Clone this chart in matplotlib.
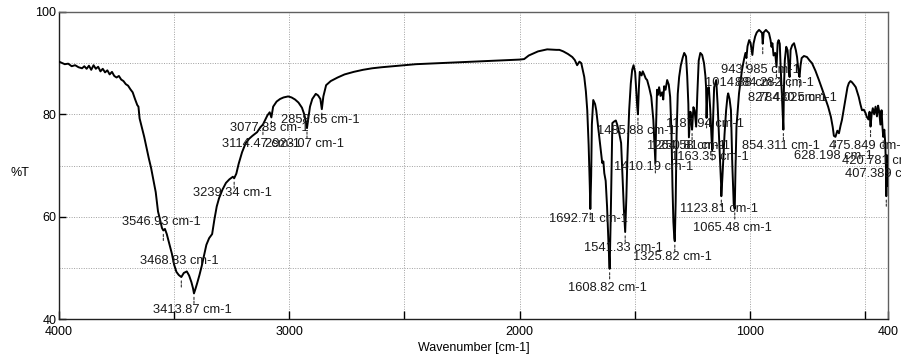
import numpy as np
import matplotlib
matplotlib.use("Agg")
import matplotlib.pyplot as plt

# IR spectrum (wavenumber cm-1, %T)
wn = [4000, 3990, 3975, 3960, 3945, 3930, 3915, 3900, 3890, 3880, 3870, 3860, 3850,
      3840, 3830, 3820, 3810, 3800, 3790, 3780, 3770, 3760, 3750, 3740, 3730, 3720,
      3710, 3700, 3690, 3680, 3670, 3660, 3655, 3650, 3640, 3630, 3620, 3610, 3600,
      3590, 3580, 3570, 3560, 3553, 3546.93, 3540, 3532, 3520, 3510, 3500, 3490, 3480,
      3468.83, 3458, 3445, 3435, 3425, 3418, 3413.87, 3408, 3400, 3390, 3380, 3370,
      3360, 3348, 3335, 3325, 3315, 3305, 3290, 3275, 3260, 3245, 3239.34, 3230, 3220,
      3205, 3190, 3175, 3160, 3140, 3125, 3114.47, 3105, 3095, 3085, 3077.83, 3070,
      3055, 3040, 3025, 3005, 2990, 2975, 2960, 2945, 2935, 2928, 2923.07, 2918, 2910,
      2900, 2885, 2875, 2865, 2858.65, 2852, 2840, 2820, 2790, 2760, 2720, 2680, 2640,
      2600, 2550, 2500, 2450, 2400, 2350, 2300, 2250, 2200, 2150, 2100, 2050, 2000,
      1980, 1960, 1920, 1880, 1840, 1827, 1810, 1790, 1771, 1760, 1750, 1740, 1732,
      1719, 1712, 1706, 1700, 1695, 1692.71, 1689, 1686, 1680, 1672, 1667, 1660, 1654,
      1646, 1641, 1636, 1632, 1626, 1620, 1614, 1608.82, 1604, 1600, 1597, 1589, 1582,
      1576, 1568, 1559, 1553, 1547, 1541.33, 1536, 1532, 1524, 1517, 1511, 1505, 1498,
      1494, 1489, 1485.88, 1482, 1478, 1470, 1465, 1459, 1452, 1446, 1437, 1428, 1419,
      1414, 1410.19, 1407, 1403, 1399, 1394, 1388, 1381, 1376, 1372, 1366, 1359, 1352,
      1346, 1340, 1336, 1332, 1328, 1325.82, 1322, 1318, 1313, 1307, 1300, 1292, 1285,
      1280, 1277, 1272, 1267, 1264.58, 1258, 1254, 1250.81, 1245, 1240, 1233, 1228,
      1222, 1215, 1207, 1199, 1193, 1190, 1187.94, 1184, 1178, 1172, 1167, 1163.35,
      1159, 1155, 1146, 1140, 1134, 1128, 1125, 1123.81, 1119, 1115, 1110, 1103, 1097,
      1094, 1088, 1082, 1076, 1070, 1065.48, 1062, 1058, 1047, 1040, 1034, 1025, 1019,
      1014.88, 1010, 1003, 997, 992, 989, 984, 977, 970, 960, 953, 947, 943.985, 940,
      930, 924, 917, 910, 906, 902, 897, 890, 884.282, 879, 875, 870, 866, 860, 856,
      854.311, 852, 848, 842, 836, 831, 827.48, 823, 816, 808, 800, 795, 790, 786,
      784.025, 780, 775, 765, 752, 740, 730, 715, 700, 685, 670, 660, 648, 640, 635,
      628.198, 620, 613, 606, 600, 592, 583, 576, 570, 563, 557, 548, 540, 533, 527,
      520, 513, 505, 498, 492, 485, 480, 475.849, 471, 466, 460, 454, 448, 443, 438,
      433, 428, 424, 420.781, 416, 412, 409, 407.389, 404, 400]
trans = [90.3, 90.1, 89.8, 89.9, 89.4, 89.6, 89.2, 89.0, 89.4, 88.9, 89.5, 88.7, 89.6,
         88.9, 89.3, 88.4, 88.9, 88.2, 88.6, 87.8, 88.3, 87.5, 87.2, 87.5, 86.8, 86.5,
         85.9, 85.6, 84.9, 84.3, 83.0, 81.8, 81.5, 79.2, 77.4, 75.6, 73.5, 71.4, 69.5,
         67.2, 64.8, 61.0, 59.2, 57.8, 57.3, 57.6, 56.6, 54.5, 52.8, 50.6, 49.2, 48.6,
         48.2, 49.0, 49.3, 48.5, 47.2, 46.0, 45.0, 45.8, 47.0, 48.6, 50.4, 52.5,
         54.5, 55.8, 56.6, 59.5, 62.0, 63.6, 65.3, 66.6, 67.3, 67.8, 67.5, 68.4, 70.3,
         72.6, 74.3, 75.2, 75.8, 76.5, 77.5, 78.0, 78.9, 79.8, 80.4, 79.4, 81.5,
         82.5, 83.0, 83.3, 83.5, 83.3, 82.9, 82.3, 81.3, 80.0, 78.6, 77.3, 79.0, 81.5,
         83.0, 84.0, 83.7, 83.0, 81.0, 83.5, 85.7, 86.5, 87.2, 87.8, 88.3, 88.7, 89.0,
         89.2, 89.4, 89.6, 89.8, 89.9, 90.0, 90.1, 90.2, 90.3, 90.4, 90.5, 90.6, 90.7,
         90.8, 91.5, 92.3, 92.7, 92.6, 92.6, 92.3, 91.8, 91.2, 90.6, 89.6, 90.3, 90.0,
         87.3, 84.5, 80.8, 74.0, 66.0, 61.5, 68.0, 78.0, 82.8, 82.0, 80.8, 78.0, 75.6,
         72.5, 70.5, 70.8, 68.5, 67.0, 62.0, 55.0, 49.8, 60.0, 70.5, 78.3, 78.6, 78.8,
         78.0, 76.5, 74.4, 68.0, 61.5, 57.0, 64.0, 71.1, 80.8, 86.0, 88.7, 89.6, 88.2,
         85.3, 81.5, 80.0, 85.0, 88.3, 87.6, 88.4, 87.8, 87.0, 86.7, 85.2, 83.4, 78.9,
         74.0, 70.5, 78.0, 84.8, 83.8, 85.3, 83.6, 84.3, 82.9, 85.5, 84.8, 86.7, 85.8,
         83.4, 76.0, 66.0, 59.0, 55.8, 55.2, 63.0, 76.0, 84.0, 87.3, 89.5, 91.0, 92.0,
         91.6, 91.3, 87.5, 82.0, 75.5, 80.5, 78.8, 77.0, 81.4, 80.8, 77.6, 84.0,
         90.5, 92.0, 91.6, 90.0, 87.5, 85.3, 79.3, 85.0, 85.3, 81.0, 76.0, 73.0,
         80.0, 85.3, 86.7, 82.0, 75.6, 69.0, 66.5, 64.0, 67.8, 71.5, 76.0, 80.8, 83.5,
         84.1, 83.0, 80.8, 70.0, 62.5, 61.5, 70.0, 77.6, 84.1, 86.5, 88.7, 90.8, 92.0,
         91.0, 93.3, 94.5, 94.0, 92.5, 91.6, 93.8, 95.2, 96.0, 96.5, 96.2, 95.9, 93.8, 96.0,
         96.5, 96.2, 95.9, 94.5, 93.2, 93.9, 91.5, 92.0, 89.3, 94.0, 94.5, 93.8, 89.0, 83.0, 78.5,
         77.0, 85.0, 90.6, 93.2, 92.5, 89.0, 87.3, 92.6, 93.5, 93.9, 92.5, 91.2, 89.0, 87.5,
         87.3, 89.5, 91.0, 91.4, 91.2, 90.5, 90.0, 88.5, 86.7, 84.8, 82.8, 81.5, 79.5, 77.5, 75.8,
         75.6, 76.8, 76.3, 77.8, 78.9, 81.0, 83.4, 85.3, 86.1, 86.5, 86.3, 85.8, 85.3, 84.3, 83.4,
         82.0, 80.8, 80.9, 80.3, 79.5, 79.0, 80.5, 77.6, 80.0, 81.2, 80.0, 81.5, 79.6, 81.7, 80.5,
         78.0, 80.8, 77.5, 75.6, 77.0, 74.4, 70.0, 64.0, 72.0, 66.0]

# picked peaks
peak_wn = [3546.93, 3468.83, 3413.87, 3239.34, 3114.47, 3077.83, 2923.07, 2858.65,
           1692.71, 1608.82, 1541.33, 1485.88, 1410.19, 1325.82, 1264.58, 1250.81,
           1187.94, 1163.35, 1123.81, 1065.48, 1014.88, 943.985, 884.282, 854.311,
           827.48, 784.025, 628.198, 475.849, 420.781, 407.389]
peak_names = ["3546.93", "3468.83", "3413.87", "3239.34", "3114.47", "3077.83",
              "2923.07", "2858.65", "1692.71", "1608.82", "1541.33", "1485.88",
              "1410.19", "1325.82", "1264.58", "1250.81", "1187.94", "1163.35",
              "1123.81", "1065.48", "1014.88", "943.985", "884.282", "854.311",
              "827.480", "784.025", "628.198", "475.849", "420.781", "407.389"]

# where each label sits, pixels below its peak (layout only)
label_dy = [-8.5, -16, 16.6, 14.7, 19.4, 10.6, 15.8, 10.8,
            10, 19.1, 16, 16.7, 4, 15.8, 8.6, 16.3,
            6.1, 6.8, 12.8, 19, 25, 26.3, 16.2, 16.3,
            21, 21, 19.1, 19.4, 24, -22]

plt.rcParams['font.family'] = ['Liberation Sans', 'DejaVu Sans']

fig = plt.figure(figsize=(9.01, 3.6), dpi=100)
ax = fig.add_axes([59 / 901, 1 - 319 / 360, 829 / 901, 307 / 360])

ax.plot(wn, trans, color='black', lw=1.4, zorder=3)

peak_T = np.interp(peak_wn, wn[::-1], trans[::-1])
for w, t, name, dy in zip(peak_wn, peak_T, peak_names, label_dy):
    ax.annotate('', xy=(w, t), xytext=(0, -10), textcoords='offset pixels',
                arrowprops=dict(arrowstyle='-', linestyle=(0, (2, 1.5)), lw=0.8,
                                color='#303030', shrinkA=0, shrinkB=2),
                annotation_clip=False)
    ax.annotate(name + ' cm-1', xy=(w, t), xytext=(-2, -dy), textcoords='offset pixels',
                ha='center', va='center', fontsize=9.3, color='#1a1a1a',
                annotation_clip=False, zorder=4)

ax.set_xlim(4000, 400)
ax.set_ylim(40, 100)
ax.set_xticks([4000, 3000, 2000, 1000, 400])
ax.set_xticks([3500, 2500, 1500, 500], minor=True)
ax.set_yticks([40, 60, 80, 100])
ax.set_yticks([50, 70, 90], minor=True)
ax.grid(True, which='both', color='#a0a0a0', lw=0.7, linestyle=(0, (1, 1.5)))
ax.set_axisbelow(True)
ax.tick_params(axis='x', which='both', direction='in', length=6, width=1,
               labelsize=9, pad=5)
ax.tick_params(axis='y', which='major', direction='in', length=5, width=1,
               labelsize=9, pad=2)
ax.tick_params(axis='y', which='minor', length=0)
for s in ax.spines.values():
    s.set_linewidth(1)
    s.set_color('#202020')
ax.spines['top'].set_color('#606060')
ax.spines['right'].set_color('#606060')

ax.set_xlabel('Wavenumber [cm-1]', fontsize=9, labelpad=3)
fig.text(20 / 901, 1 - 173 / 360, '%T', ha='center', va='center', fontsize=9)

fig.savefig('out.png', dpi=100)
